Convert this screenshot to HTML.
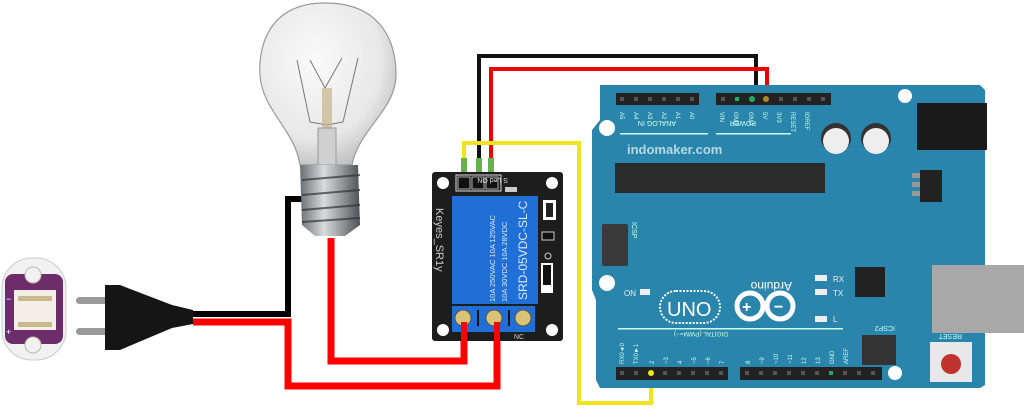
<!DOCTYPE html>
<html><head><meta charset="utf-8"><style>
html,body{margin:0;padding:0;background:#fff;}
svg{display:block;}
text{font-family:"Liberation Sans",sans-serif;}
</style></head><body>
<svg width="1024" height="412" viewBox="0 0 1024 412" xmlns="http://www.w3.org/2000/svg">
<defs>
<radialGradient id="glass" cx="0.4" cy="0.35" r="0.7">
<stop offset="0" stop-color="#fafafa"/><stop offset="0.7" stop-color="#e8e8e8"/><stop offset="1" stop-color="#bdbdbd"/>
</radialGradient>
<linearGradient id="screw" x1="0" x2="1">
<stop offset="0" stop-color="#6a6f73"/><stop offset="0.4" stop-color="#d8dcdf"/><stop offset="1" stop-color="#4d5256"/>
</linearGradient>
</defs>

<!-- socket -->
<rect x="2" y="258" width="64" height="102" rx="30" fill="#f1f1f1" stroke="#ccc"/>
<rect x="5" y="274" width="58" height="70" rx="8" fill="#6d2d6b"/>
<circle cx="33" cy="275" r="8" fill="#f1f1f1" stroke="#bba" />
<circle cx="33" cy="345" r="8" fill="#f1f1f1" stroke="#bba"/>
<rect x="14" y="290" width="42" height="40" fill="#f3efe6"/>
<rect x="18" y="296" width="34" height="5" fill="#c9b98f"/>
<rect x="18" y="322" width="34" height="5" fill="#c9b98f"/>
<text x="6" y="302" font-size="9" fill="#fff">−</text>
<text x="6" y="335" font-size="9" fill="#fff">+</text>

<!-- plug -->
<rect x="76" y="297" width="32" height="7" rx="3.5" fill="#9a9a9a"/>
<rect x="76" y="328" width="32" height="7" rx="3.5" fill="#9a9a9a"/>
<path d="M105 285 L120 285 L172 305 L193 310 L193 324 L172 328 L120 350 L105 350 Z" fill="#151515"/>

<!-- AC wires -->
<polyline points="193,314 288,314 288,199 308,199" fill="none" stroke="#000" stroke-width="6"/>
<polyline points="193,322 288,322 288,386 497,386 497,322" fill="none" stroke="#f00" stroke-width="7"/>
<polyline points="331,238 331,361 464,361 464,322" fill="none" stroke="#f00" stroke-width="7"/>

<!-- bulb -->
<path d="M325 3 C270 3 258 45 260 75 C262 110 295 130 300 165 L352 165 C358 130 396 110 396 75 C396 40 380 3 325 3 Z" fill="url(#glass)" stroke="#999" stroke-width="1.2"/>
<path d="M297 60 L310 122 L327 125 L343 122 L358 58 M310 60 L325 88 L342 58" fill="none" stroke="#777" stroke-width="1"/>
<rect x="322" y="88" width="10" height="40" fill="#c9b48a" opacity="0.7"/>
<rect x="318" y="128" width="18" height="37" fill="#cfcfcf" stroke="#999"/>
<path d="M300 165 L358 165 L360 225 L345 236 L315 236 L302 225 Z" fill="url(#screw)"/>
<g stroke="#2f3336" stroke-width="2" opacity="0.7">
<line x1="302" y1="180" x2="360" y2="175"/><line x1="302" y1="195" x2="360" y2="190"/><line x1="302" y1="210" x2="360" y2="205"/><line x1="302" y1="222" x2="360" y2="218"/>
</g>

<!-- relay power wires -->
<polyline points="479,180 479,56 756,56 756,100" fill="none" stroke="#111" stroke-width="4"/>
<polyline points="491,180 491,69 767,69 767,100" fill="none" stroke="#e00" stroke-width="4"/>
<polyline points="464,180 464,143 579,143 579,403 651,403 651,372" fill="none" stroke="#f2e41a" stroke-width="4"/>
<rect x="461" y="158" width="6" height="20" fill="#6ab04c"/>
<rect x="476" y="158" width="6" height="20" fill="#6ab04c"/>
<rect x="488" y="158" width="6" height="20" fill="#6ab04c"/>

<!-- relay board -->
<rect x="432" y="172" width="131" height="169" rx="3" fill="#1d1d1d"/>
<circle cx="443" cy="183" r="6" fill="#fff"/><circle cx="552" cy="183" r="6" fill="#fff"/>
<circle cx="443" cy="330" r="6" fill="#fff"/><circle cx="552" cy="330" r="6" fill="#fff"/>
<rect x="456" y="175" width="45" height="16" fill="none" stroke="#ddd"/>
<rect x="458" y="177" width="12" height="12" fill="#111" stroke="#aaa"/>
<rect x="472" y="177" width="12" height="12" fill="#111" stroke="#aaa"/>
<rect x="486" y="177" width="12" height="12" fill="#111" stroke="#aaa"/>
<text x="548" y="186" font-size="7" fill="#ddd" transform="rotate(180 528 182)">S Led ON</text>
<rect x="505" y="187" width="12" height="5" fill="#ccc"/>
<rect x="452" y="196" width="86" height="108" fill="#1f6fd6"/>
<g fill="#dfe8f5" font-size="7.5">
<text transform="translate(495,302) rotate(-90)">10A 250VAC  10A 125VAC</text>
<text transform="translate(507,302) rotate(-90)">10A  30VDC  10A  28VDC</text>
</g>
<text transform="translate(527,300) rotate(-90)" font-size="12" fill="#dfe8f5">SRD-05VDC-SL-C</text>
<text transform="translate(436,208) rotate(90)" font-size="11" fill="#ccc">Keyes_SR1y</text>
<rect x="543" y="200" width="13" height="20" fill="#fff"/><rect x="546" y="203" width="7" height="14" fill="#222"/>
<rect x="542" y="232" width="12" height="8" fill="#111" stroke="#ccc"/>
<circle cx="548" cy="256" r="3" fill="none" stroke="#ccc"/>
<rect x="541" y="263" width="12" height="30" fill="#fff"/><rect x="543" y="265" width="8" height="20" fill="#111"/>
<rect x="452" y="306" width="83" height="26" fill="#1f6fd6"/>
<circle cx="463" cy="318" r="8" fill="#d8c377" stroke="#555"/>
<circle cx="494" cy="318" r="8" fill="#d8c377" stroke="#555"/>
<circle cx="523" cy="318" r="8" fill="#d8c377" stroke="#555"/>
<rect x="477" y="310" width="2" height="16" fill="#111"/><rect x="508" y="310" width="2" height="16" fill="#111"/>
<text x="514" y="339" font-size="7" fill="#ccc">NC</text>
<rect x="461" y="322" width="6" height="22" fill="#f00"/><rect x="494" y="322" width="6" height="22" fill="#f00"/>

<!-- arduino -->
<path d="M600 85 L980 85 L985 90 L985 385 L980 388 L600 388 L596 380 L596 300 L592 290 L592 130 L600 120 Z" fill="#2985ab"/>
<circle cx="905" cy="96" r="7" fill="#fff"/><circle cx="607" cy="128" r="8" fill="#fff"/>
<circle cx="607" cy="283" r="8" fill="#fff"/><circle cx="895" cy="373" r="7" fill="#fff"/>
<rect x="616" y="93" width="83" height="12" fill="#222"/>
<rect x="716" y="93" width="115" height="12" fill="#222"/>
<g fill="#555">
<rect x="620" y="97" width="4" height="4"/><rect x="634" y="97" width="4" height="4"/><rect x="648" y="97" width="4" height="4"/><rect x="662" y="97" width="4" height="4"/><rect x="676" y="97" width="4" height="4"/><rect x="690" y="97" width="4" height="4"/>
<rect x="721" y="97" width="4" height="4"/><rect x="735" y="97" width="4" height="4" fill="#2a6"/><rect x="779" y="97" width="4" height="4"/><rect x="793" y="97" width="4" height="4"/><rect x="807" y="97" width="4" height="4"/><rect x="821" y="97" width="4" height="4"/>
</g>
<circle cx="752" cy="99" r="3" fill="#2a6"/><circle cx="766" cy="99" r="3" fill="#a82"/>
<g fill="#cfe" font-size="6">
<text transform="translate(620,112) rotate(90)">A5</text><text transform="translate(634,112) rotate(90)">A4</text><text transform="translate(648,112) rotate(90)">A3</text><text transform="translate(662,112) rotate(90)">A2</text><text transform="translate(676,112) rotate(90)">A1</text><text transform="translate(690,112) rotate(90)">A0</text>
<text transform="translate(720,112) rotate(90)">VIN</text><text transform="translate(734,112) rotate(90)">GND</text><text transform="translate(749,112) rotate(90)">GND</text><text transform="translate(763,112) rotate(90)">5V</text><text transform="translate(777,112) rotate(90)">3V3</text><text transform="translate(791,112) rotate(90)">RESET</text><text transform="translate(805,112) rotate(90)">IOREF</text>
</g>
<text x="620" y="127" font-size="7" fill="#cfe" transform="rotate(180 648 124)">ANALOG IN</text>
<text x="720" y="127" font-size="7" fill="#cfe" transform="rotate(180 738 124)">POWER</text>
<rect x="620" y="133" width="88" height="1.5" fill="#cfe"/><rect x="716" y="133" width="75" height="1.5" fill="#cfe"/>
<text x="627" y="154" font-size="13" font-weight="bold" fill="#b8d8e6">indomaker.com</text>
<rect x="615" y="163" width="210" height="30" fill="#2b2b2b"/>
<circle cx="836" cy="138" r="15" fill="#333"/><circle cx="836" cy="141" r="13" fill="#eee"/>
<circle cx="876" cy="138" r="15" fill="#333"/><circle cx="876" cy="141" r="13" fill="#eee"/>
<rect x="917" y="103" width="70" height="47" fill="#1a1a1a"/>
<rect x="920" y="170" width="22" height="32" fill="#222"/>
<rect x="912" y="173" width="8" height="5" fill="#999"/><rect x="912" y="182" width="8" height="5" fill="#999"/><rect x="912" y="191" width="8" height="5" fill="#999"/>
<rect x="602" y="224" width="26" height="42" rx="2" fill="#3a3a3a"/>
<text transform="translate(632,222) rotate(90)" font-size="7" fill="#cfe">ICSP</text>
<rect x="855" y="267" width="30" height="30" fill="#222"/>
<rect x="932" y="265" width="92" height="68" fill="#a8a8a8"/>
<rect x="815" y="275" width="12" height="6" fill="#eee"/><rect x="815" y="289" width="12" height="6" fill="#eee"/><rect x="815" y="316" width="12" height="6" fill="#eee"/>
<text x="833" y="282" font-size="8" fill="#eee">RX</text><text x="833" y="296" font-size="8" fill="#eee">TX</text><text x="833" y="322" font-size="8" fill="#eee">L</text>
<rect x="640" y="289" width="10" height="6" fill="#eee"/><text x="624" y="296" font-size="8" fill="#eee">ON</text>
<rect x="660" y="291" width="60" height="32" rx="16" fill="none" stroke="#fff" stroke-width="2" stroke-dasharray="2 1.5"/>
<text x="667" y="316" font-size="20" fill="#fff">UNO</text>
<circle cx="750" cy="306" r="13" fill="none" stroke="#fff" stroke-width="5"/>
<circle cx="780" cy="306" r="13" fill="none" stroke="#fff" stroke-width="5"/>
<text x="742" y="312" font-size="16" font-weight="bold" fill="#fff">+</text><text x="774" y="312" font-size="16" font-weight="bold" fill="#fff">−</text>
<text x="738" y="290" font-size="12" fill="#fff" transform="rotate(180 765 286)">Arduino</text>
<rect x="618" y="328" width="225" height="1.5" fill="#cfe"/>
<text x="672" y="338" font-size="6.5" fill="#cfe" transform="rotate(180 700 335)">DIGITAL (PWM=~)</text>
<rect x="862" y="335" width="34" height="30" fill="#333"/>
<text x="865" y="332" font-size="7" fill="#cfe" transform="rotate(180 880 329)">ICSP2</text>
<rect x="930" y="342" width="42" height="40" fill="#e8e8e8"/><circle cx="951" cy="364" r="10" fill="#c0332c"/>
<text x="932" y="340" font-size="7" fill="#cfe" transform="rotate(180 947 337)">RESET</text>
<rect x="616" y="367" width="112" height="13" fill="#222"/>
<rect x="740" y="367" width="142" height="13" fill="#222"/>
<g fill="#555">
<rect x="620" y="371" width="4" height="4"/><rect x="634" y="371" width="4" height="4"/><rect x="663" y="371" width="4" height="4"/><rect x="677" y="371" width="4" height="4"/><rect x="691" y="371" width="4" height="4"/><rect x="705" y="371" width="4" height="4"/><rect x="719" y="371" width="4" height="4"/>
<rect x="745" y="371" width="4" height="4"/><rect x="759" y="371" width="4" height="4"/><rect x="773" y="371" width="4" height="4"/><rect x="787" y="371" width="4" height="4"/><rect x="801" y="371" width="4" height="4"/><rect x="815" y="371" width="4" height="4"/><rect x="829" y="371" width="4" height="4" fill="#2a6"/><rect x="843" y="371" width="4" height="4"/><rect x="857" y="371" width="4" height="4"/><rect x="871" y="371" width="4" height="4"/>
</g>
<circle cx="651" cy="373" r="3" fill="#f2e41a"/>
<g fill="#cfe" font-size="6">
<text transform="translate(624,364) rotate(-90)">RX0◄0</text><text transform="translate(638,364) rotate(-90)">TX0►1</text><text transform="translate(654,364) rotate(-90)">2</text><text transform="translate(668,364) rotate(-90)">~3</text><text transform="translate(682,364) rotate(-90)">4</text><text transform="translate(696,364) rotate(-90)">~5</text><text transform="translate(710,364) rotate(-90)">~6</text><text transform="translate(724,364) rotate(-90)">7</text>
<text transform="translate(750,364) rotate(-90)">8</text><text transform="translate(764,364) rotate(-90)">~9</text><text transform="translate(778,364) rotate(-90)">~10</text><text transform="translate(792,364) rotate(-90)">~11</text><text transform="translate(806,364) rotate(-90)">12</text><text transform="translate(820,364) rotate(-90)">13</text><text transform="translate(834,364) rotate(-90)">GND</text><text transform="translate(848,364) rotate(-90)">AREF</text>
</g>
</svg>
</body></html>
